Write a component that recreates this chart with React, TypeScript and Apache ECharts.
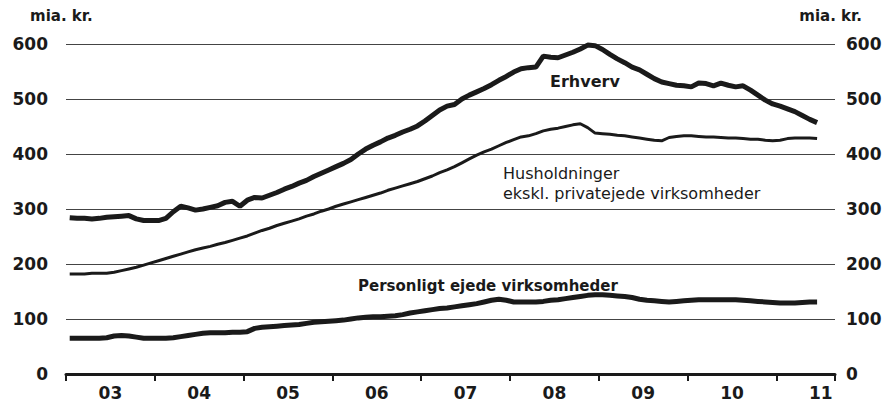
import React, { useEffect, useRef } from "react";
import * as echarts from "echarts";

// Monthly lending, bn DKK, Jan 2003 – Jun 2011
const startYear = 2003;
const yearLabels = ["03", "04", "05", "06", "07", "08", "09", "10", "11"];
const yTicks = [0, 100, 200, 300, 400, 500, 600];

const erhverv = [
  284, 283, 283, 282, 283, 285, 286, 287, 288, 282, 279, 279,
  279, 283, 295, 305, 302, 298, 300, 303, 306, 312, 314, 305,
  316, 321, 320, 325, 330, 336, 341, 347, 352, 359, 365, 371,
  377, 383, 390, 400, 409, 416, 422, 429, 434, 440, 445, 451,
  460, 470, 480, 487, 490, 500, 507, 513, 519, 526, 534, 541,
  549, 555, 557, 558, 578, 576, 575, 580, 585, 591, 598, 597,
  590, 581, 573, 566, 558, 553, 545, 537, 531, 528, 525, 524,
  522, 529, 528, 524, 529, 525, 522, 524, 516, 507, 498, 491,
  487, 482, 477, 470, 463, 457,
];

const husholdninger = [
  182, 182, 182, 183, 183, 183, 185, 188, 191, 194, 198, 202,
  206, 210, 214, 218, 222, 226, 229, 232, 236, 239, 243, 247,
  251, 256, 261, 265, 270, 274, 278, 282, 287, 291, 296, 300,
  305, 309, 313, 317, 321, 325, 329, 334, 338, 342, 346, 350,
  355, 360, 366, 371, 377, 384, 391, 398, 404, 409, 415, 421,
  426, 431, 433, 437, 442, 445, 447, 450, 453, 455, 448, 438,
  437, 436, 434, 433, 431, 429, 427, 425, 424, 430, 432, 433,
  433, 432, 431, 431, 430, 429, 429, 428, 427, 427, 425, 424,
  425, 428, 429, 429, 429, 428,
];

const personligt = [
  65, 65, 65, 65, 65, 66, 69, 70, 69, 67, 65, 65,
  65, 65, 66, 68, 70, 72, 74, 75, 75, 75, 76, 76,
  77, 83, 85, 86, 87, 88, 89, 90, 92, 94, 95, 96,
  97, 98, 100, 102, 103, 104, 104, 105, 106, 108, 111, 113,
  115, 117, 119, 120, 122, 124, 126, 128, 131, 134, 136, 134,
  131, 131, 131, 131, 132, 134, 135, 137, 139, 141, 143, 144,
  144, 143, 142, 141, 139, 136, 134, 133, 132, 131, 132, 133,
  134, 135, 135, 135, 135, 135, 135, 134, 133, 132, 131, 130,
  129, 129, 129, 130, 131, 131,
];

const monthPos = erhverv.map((_, i) => startYear + (i + 0.5) / 12);
const toPairs = (vals: number[]) => vals.map((v, i) => [monthPos[i], v]);

const FONT = "DejaVu Sans";
const INK = "#1a1a1a";

export default function App() {
  const ref = useRef<HTMLDivElement>(null);
  useEffect(() => {
    if (!ref.current) return;
    const chart = echarts.init(ref.current, null, { renderer: "svg" });
    const xMin = startYear;
    const xMax = 2011.66;
    chart.setOption({
      animation: false,
      backgroundColor: "#ffffff",
      grid: { left: 66, right: 51, top: 44, bottom: 29, containLabel: false },
      xAxis: [
        {
          type: "value",
          min: xMin,
          max: xMax,
          interval: 1,
          position: "bottom",
          axisLine: { show: true, onZero: false, lineStyle: { color: INK, width: 3 } },
          axisTick: { show: true, inside: false, length: 7, lineStyle: { color: INK, width: 2 } },
          axisLabel: { show: false },
          splitLine: { show: false },
        },
        {
          type: "value",
          min: xMin,
          max: xMax,
          interval: 0.5,
          position: "bottom",
          offset: 0,
          axisLine: { show: false },
          axisTick: { show: false },
          splitLine: { show: false },
          axisLabel: {
            show: true,
            margin: 10,
            color: INK,
            fontFamily: FONT,
            fontWeight: "bold",
            fontSize: 17,
            formatter: (v: number) => {
              const frac = Math.round((v - Math.floor(v)) * 100) / 100;
              if (frac !== 0.5) return "";
              const idx = Math.floor(v) - startYear;
              return yearLabels[idx] ?? "";
            },
          },
        },
      ],
      yAxis: [
        {
          type: "value",
          min: yTicks[0],
          max: yTicks[yTicks.length - 1],
          interval: 100,
          position: "left",
          axisLine: { show: false },
          axisTick: { show: false },
          axisLabel: {
            margin: 18,
            color: INK,
            fontFamily: FONT,
            fontWeight: "bold",
            fontSize: 17,
          },
          splitLine: { show: true, lineStyle: { color: "#444", width: 1 } },
        },
        {
          type: "value",
          min: yTicks[0],
          max: yTicks[yTicks.length - 1],
          interval: 100,
          position: "right",
          axisLine: { show: false },
          axisTick: { show: false },
          axisLabel: {
            margin: 11,
            color: INK,
            fontFamily: FONT,
            fontWeight: "bold",
            fontSize: 17,
          },
          splitLine: { show: false },
        },
      ],
      series: [
        {
          name: "Erhverv",
          type: "line",
          xAxisIndex: 0,
          yAxisIndex: 0,
          data: toPairs(erhverv),
          showSymbol: false,
          lineStyle: { color: INK, width: 5 },
          z: 5,
        },
        {
          name: "Husholdninger ekskl. privatejede virksomheder",
          type: "line",
          xAxisIndex: 0,
          yAxisIndex: 0,
          data: toPairs(husholdninger),
          showSymbol: false,
          lineStyle: { color: INK, width: 3 },
          z: 5,
        },
        {
          name: "Personligt ejede virksomheder",
          type: "line",
          xAxisIndex: 0,
          yAxisIndex: 0,
          data: toPairs(personligt),
          showSymbol: false,
          lineStyle: { color: INK, width: 5 },
          z: 5,
        },
      ],
      graphic: [
        {
          type: "text",
          left: 30,
          top: 8,
          style: { text: "mia. kr.", fill: INK, font: `bold 15px "${FONT}"` },
        },
        {
          type: "text",
          right: 24,
          top: 8,
          style: { text: "mia. kr.", fill: INK, font: `bold 15px "${FONT}"` },
        },
        {
          type: "text",
          left: 550,
          top: 73,
          style: { text: "Erhverv", fill: INK, font: `bold 16px "${FONT}"` },
        },
        {
          type: "text",
          left: 503,
          top: 163,
          style: {
            text: "Husholdninger\nekskl. privatejede virksomheder",
            fill: INK,
            font: `16px "${FONT}"`,
            lineHeight: 20,
          },
        },
        {
          type: "text",
          left: 358,
          top: 278,
          style: { text: "Personligt ejede virksomheder", fill: INK, font: `bold 15px "${FONT}"` },
        },
      ],
    });
    return () => chart.dispose();
  }, []);
  return (
    <div
      ref={ref}
      style={{ position: "fixed", left: 0, top: 0, width: 886, height: 403, background: "#fff" }}
    />
  );
}
